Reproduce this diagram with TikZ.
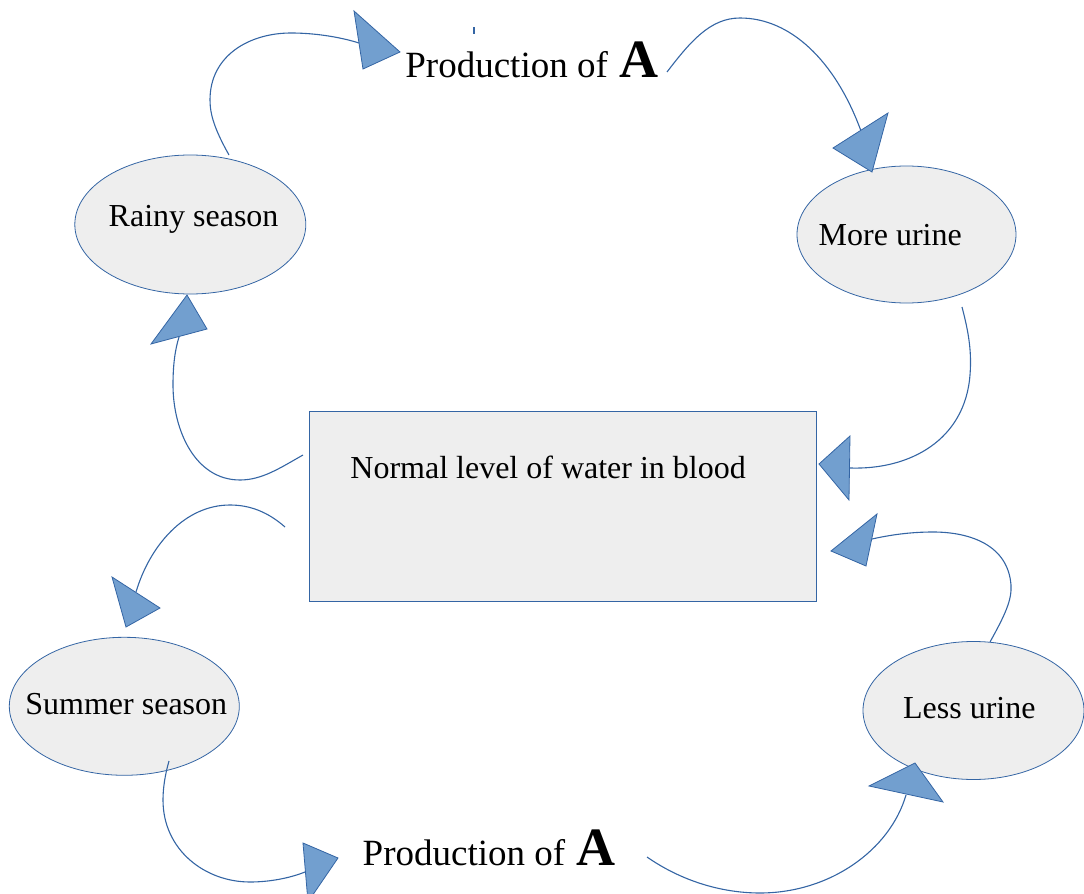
\documentclass[tikz,border=0pt]{standalone}
\usepackage{fontspec}
\setmainfont{Liberation Serif}
\usetikzlibrary{shapes.geometric}
\definecolor{lineblue}{HTML}{3465A4}
\definecolor{tipblue}{HTML}{729FCF}
\definecolor{boxgray}{HTML}{EEEEEE}
\tikzset{
  bubble/.style={ellipse, draw=lineblue, line width=0.4pt, fill=boxgray, inner sep=0pt},
  lbl/.style={anchor=base west, inner sep=0pt, font=\fontsize{16}{19}\selectfont},
  prod/.style={anchor=base west, inner sep=0pt, font=\fontsize{18.5}{22}\selectfont},
  conn/.style={draw=lineblue, line width=0.55pt},
  tiphead/.style={fill=tipblue, draw=lineblue, line width=0.4pt, line join=miter},
}
\begin{document}
\begin{tikzpicture}[x=0.5pt,y=-0.5pt]
\useasboundingbox (0,0) rectangle (1084,894);
\clip (0,0) rectangle (1084,894);

% box and ellipses
\node[draw=lineblue, fill=boxgray, line width=0.5pt, inner sep=0pt,
      minimum width=253.3pt, minimum height=94.7pt] (blood) at (562.7,506.3) {};
\node[bubble, minimum width=115.5pt, minimum height=69.5pt] (rainy)  at (190.3,224.5) {};
\node[bubble, minimum width=109.5pt, minimum height=68.5pt] (more)   at (906.5,234.5) {};
\node[bubble, minimum width=115pt,   minimum height=69pt]   (summer) at (124.3,706.3) {};
\node[bubble, minimum width=110.5pt, minimum height=69pt]   (less)   at (973.5,710.5) {};

% labels
\node[lbl] (rainyT)  at (108.3,226)   {Rainy season};
\node[lbl] (moreT)   at (818.3,245.7) {More urine};
\node[lbl] (summerT) at (25,714)      {Summer season};
\node[lbl] (lessT)   at (902.7,718)   {Less urine};
\node[lbl] (bloodT)  at (350,478.3)   {Normal level of water in blood};
\node[prod] (prodTop) at (405,77.7) {Production of\hspace{1.2pt} {\fontsize{27}{32}\selectfont\bfseries A}};
\node[prod] (prodBot) at (362.3,865) {Production of\hspace{1.2pt} {\fontsize{27}{32}\selectfont\bfseries A}};

% connector end points
\coordinate (s1) at (229,155);  \coordinate (e1) at (359,43);
\coordinate (s2) at (667,72);   \coordinate (e2) at (861,131);
\coordinate (s3) at (962,307);  \coordinate (e3) at (850,468);
\coordinate (s4) at (990,642);  \coordinate (e4) at (872,539);
\coordinate (s5) at (303,455);  \coordinate (e5) at (179,337);
\coordinate (s6) at (285,527);  \coordinate (e6) at (136,592);
\coordinate (s7) at (169,761);  \coordinate (e7) at (305,872);
\coordinate (s8) at (647,857);  \coordinate (e8) at (906,795);

% connectors
\draw[conn] (s1) .. controls (215,130) and (210,115) .. (210,100)
               .. controls (210,55) and (250,33) .. (291,33)
               .. controls (315,33) and (340,37) .. (e1);
\draw[conn] (s2) .. controls (690,42) and (710,18) .. (740,18)
               .. controls (790,18) and (835,60) .. (e2);
\draw[conn] (s3) .. controls (968,330) and (972,350) .. (970,375)
               .. controls (965,440) and (910,470) .. (e3);
\draw[conn] (s4) .. controls (1005,615) and (1012,600) .. (1011,585)
               .. controls (1008,545) and (970,532) .. (933,532)
               .. controls (910,532) and (890,535) .. (e4);
\draw[conn] (s5) .. controls (280,468) and (262,480) .. (240,480)
               .. controls (195,480) and (173,430) .. (173,385)
               .. controls (173,365) and (175,350) .. (e5);
\draw[conn] (s6) .. controls (268,512) and (250,505) .. (230,505)
               .. controls (185,505) and (150,545) .. (e6);
\draw[conn] (s7) .. controls (165,775) and (163,788) .. (163,800)
               .. controls (163,850) and (205,882) .. (250,882)
               .. controls (270,882) and (290,878) .. (e7);
\draw[conn] (s8) .. controls (680,880) and (720,893) .. (760,893)
               .. controls (830,893) and (890,850) .. (e8);
\coordinate (tickA) at (474,27); \coordinate (tickB) at (474,34);
\draw[conn] (tickA) -- (tickB);

% arrow heads
\draw[tiphead] (354,11) -- (400,52) -- (363,69) -- cycle;
\draw[tiphead] (833,148) -- (888,113) -- (872,172) -- cycle;
\draw[tiphead] (819,464) -- (850,436) -- (849,500) -- cycle;
\draw[tiphead] (877,514) -- (831,551) -- (866,566) -- cycle;
\draw[tiphead] (187,295) -- (151,344) -- (207,329) -- cycle;
\draw[tiphead] (112,577) -- (160,608) -- (126,627) -- cycle;
\draw[tiphead] (303,843) -- (338,858) -- (308,902) -- cycle;
\draw[tiphead] (869,786) -- (915,763) -- (943,802) -- cycle;
\end{tikzpicture}
\end{document}
